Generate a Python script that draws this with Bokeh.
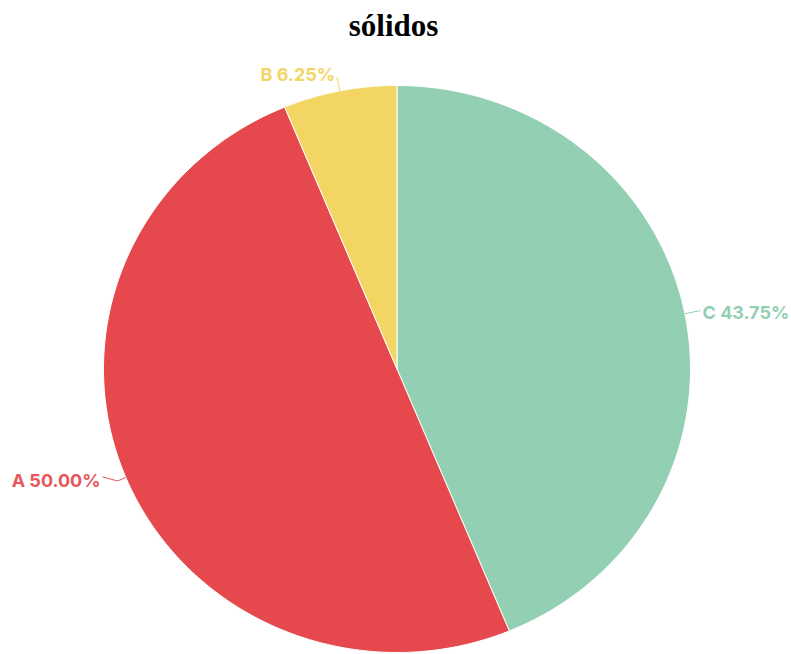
import numpy as np
from bokeh.plotting import figure
from bokeh.models import Range1d, ColumnDataSource
from bokeh.core.properties import value
from bokeh.embed import file_html
from bokeh.resources import INLINE

# ---- data ----
categories = ["C", "A", "B"]
shares = [43.75, 50.00, 6.25]
slice_colors = ["#93cfb2", "#e5484d", "#f3d563"]
label_colors = ["#93cfb2", "#e8555b", "#f3d563"]
title_text = "sólidos"

# ---- layout / style (screen pixels) ----
W, H = 791, 654
cx, cy = 396.5, 368.5
rx, ry = 293.5, 283.5
line_len1 = {"C": 15, "A": 9, "B": 14}
line_len2 = {"C": 1, "A": 15, "B": 0}
text_dy = {"C": 2, "A": 4, "B": -3}

p = figure(width=W, height=H, output_backend="svg", toolbar_location=None,
           x_range=Range1d(0, W), y_range=Range1d(H, 0),
           x_axis_type=None, y_axis_type=None, min_border=0)
p.grid.visible = False
p.outline_line_color = None
p.background_fill_color = "white"
p.border_fill_color = "white"


def pt(t, dr=0.0):
    return cx + (rx + dr) * np.sin(t), cy - (ry + dr) * np.cos(t)


fracs = np.array(shares) / np.sum(shares)
ends = np.cumsum(fracs) * 2 * np.pi
starts = ends - fracs * 2 * np.pi

xs, ys = [], []
for s, e in zip(starts, ends):
    t = np.linspace(s, e, 200)
    x, y = pt(t)
    xs.append([cx] + list(x))
    ys.append([cy] + list(y))

p.patches(xs=xs, ys=ys, fill_color=slice_colors, line_color="white", line_width=1)

# leader lines and labels
lx, ly, lt, la, lc = [], [], [], [], []
for cat, sh, s, e, col in zip(categories, shares, starts, ends, label_colors):
    m = (s + e) / 2
    x0, y0 = pt(m, 0)
    x1, y1 = pt(m, line_len1[cat])
    d = 1 if np.sin(m) >= 0 else -1
    x2, y2 = x1 + d * line_len2[cat], y1 - (4 if cat == "A" else 0)
    p.line(x=[x0, x1, x2], y=[y0, y1, y2], line_color=col, line_width=1)
    lx.append(x2 + d * 2)
    ly.append(y2 + text_dy[cat])
    lt.append(f"{cat} {sh:.2f}%")
    la.append("left" if d > 0 else "right")
    lc.append(col)

src = ColumnDataSource(dict(x=lx, y=ly, text=lt, align=la, color=lc))
p.text(x="x", y="y", text="text", text_align="align", text_color="color",
       text_baseline="alphabetic", text_font=value("Inter"), text_font_style="bold",
       text_font_size="18px", source=src)

p.text(x=[393], y=[25], text=[title_text], text_align="center",
       text_baseline="alphabetic", text_font=value("Liberation Serif"),
       text_font_style="bold", text_font_size="31px", text_color="black")

open("out.html", "w").write(file_html(p, INLINE))
